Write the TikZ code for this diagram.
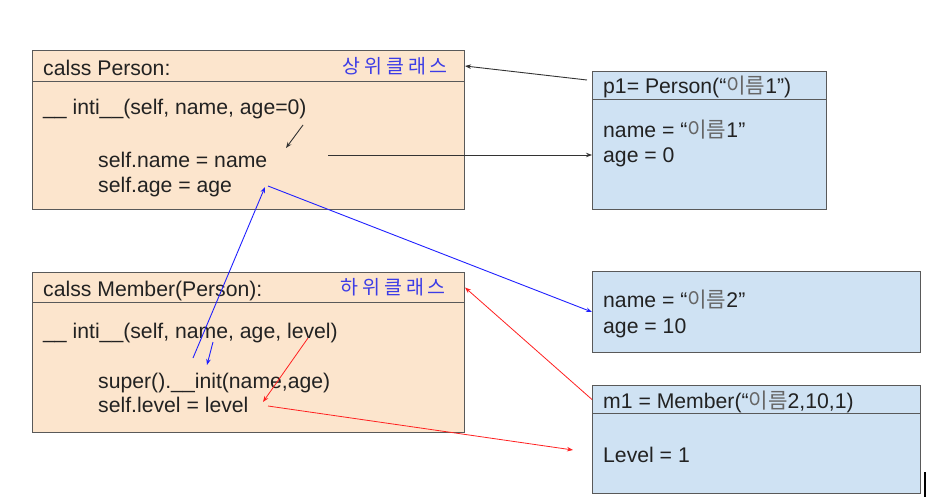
\documentclass[tikz,border=0pt]{standalone}
\usepackage{fontspec}
\setmainfont{Liberation Sans}
\newfontfamily\kr{Noto Sans CJK KR}
\newfontfamily\krsp[LetterSpace=20]{Noto Sans CJK KR}
\usetikzlibrary{arrows.meta}
\definecolor{peach}{HTML}{FCE5CD}
\definecolor{lblue}{HTML}{CFE2F3}
\definecolor{boxline}{HTML}{595959}
\definecolor{txtc}{HTML}{222222}
\definecolor{krblue}{HTML}{3C3CE6}
\definecolor{arrblue}{HTML}{1F1FFF}
\definecolor{arrred}{HTML}{FF2020}
\tikzset{
  cbox/.style={draw=boxline, line width=1pt, inner sep=0pt, anchor=north west, fill=peach},
  obox/.style={draw=boxline, line width=1pt, inner sep=0pt, anchor=north west, fill=lblue},
  txt/.style={anchor=base west, inner sep=0pt, text=txtc, font=\fontsize{21.2}{25}\selectfont},
  krlab/.style={anchor=east, inner sep=0pt, text=krblue, font=\fontsize{19.5}{24}\selectfont\krsp},
  tipa/.style={-{Stealth[length=6pt,width=4.5pt]}},
  blk/.style={tipa, draw=black!80, line width=0.9pt},
  blu/.style={tipa, draw=arrblue, line width=0.9pt},
  rd/.style={tipa, draw=arrred, line width=0.8pt},
}
\newcommand{\ko}[1]{{\kr\color{black!60}#1}}
\begin{document}
\begin{tikzpicture}[x=1pt,y=-1pt]
\useasboundingbox (0,0) rectangle (926,503);
% class Person
\node[cbox, minimum width=432pt, minimum height=159pt] (person) at (32,50) {};
\node[cbox, minimum width=432pt, minimum height=31pt] (personhead) at (32,50) {};
\node[txt] (pt0) at (43,75) {calss Person:};
\node[krlab] (pkr) at (448,66) {상위클래스};
\node[txt] (pt1) at (43,114) {\_\_ inti\_\_(self, name, age=0)};
\node[txt] (pt2) at (98,167) {self.name = name};
\node[txt] (pt3) at (98,192) {self.age = age};
% class Member
\node[cbox, minimum width=432pt, minimum height=160pt] (member) at (32,272) {};
\node[cbox, minimum width=432pt, minimum height=30pt] (memberhead) at (32,272) {};
\node[txt] (mt0) at (43,296) {calss Member(Person):};
\node[krlab] (mkr) at (446,287) {하위클래스};
\node[txt] (mt1) at (43,338) {\_\_ inti\_\_(self, name, age, level)};
\node[txt] (mt2) at (98,388) {super().\_\_init(name,age)};
\node[txt] (mt3) at (98,412) {self.level = level};
% p1
\node[obox, minimum width=234pt, minimum height=138pt] (p1) at (592,71) {};
\node[obox, minimum width=234pt, minimum height=28pt] (p1head) at (592,71) {};
\node[txt] (p1t0) at (603,93) {p1= Person(“\ko{이름}1”)};
\node[txt] (p1t1) at (603,137) {name = “\ko{이름}1”};
\node[txt] (p1t2) at (603,162) {age = 0};
% object 2
\node[obox, minimum width=328pt, minimum height=81pt] (obj2) at (592,271) {};
\node[txt] (o2t1) at (603,307) {name = “\ko{이름}2”};
\node[txt] (o2t2) at (603,333) {age = 10};
% m1
\node[obox, minimum width=328pt, minimum height=108pt] (m1) at (592,385) {};
\node[obox, minimum width=328pt, minimum height=28pt] (m1head) at (592,385) {};
\node[txt] (m1t0) at (603,408) {m1 = Member(“\ko{이름}2,10,1)};
\node[txt] (m1t1) at (603,462) {Level = 1};
% connector end points
\coordinate (c1s) at (587,80);
\coordinate (c2s) at (303,125);
\coordinate (c2e) at (286,148);
\coordinate (c3s) at (328,155);
\coordinate (c4s) at (268,186);
\coordinate (c5s) at (193,358);
\coordinate (c5e) at (265,187);
\coordinate (c6s) at (213,342);
\coordinate (c6e) at (207,365);
\coordinate (c7s) at (308,338);
\coordinate (c7e) at (263,402);
\coordinate (c8s) at (268,406);
\coordinate (c8e) at (573,450);
% connectors
\draw[blk] (c1s) -- (personhead.east);
\draw[blk] (c2s) -- (c2e);
\draw[blk] (c3s) -- (c3s -| p1.west);
\draw[blu] (c4s) -- (obj2.west);
\draw[blu] (c5s) -- (c5e);
\draw[blu] (c6s) -- (c6e);
\draw[rd] (c7s) -- (c7e);
\draw[rd] (c8s) -- (c8e);
\draw[rd] (m1head.west) -- (memberhead.east);
% edge mark at bottom right
\draw[black, line width=1.5pt] (925,472) -- (925,497);
\end{tikzpicture}
\end{document}
